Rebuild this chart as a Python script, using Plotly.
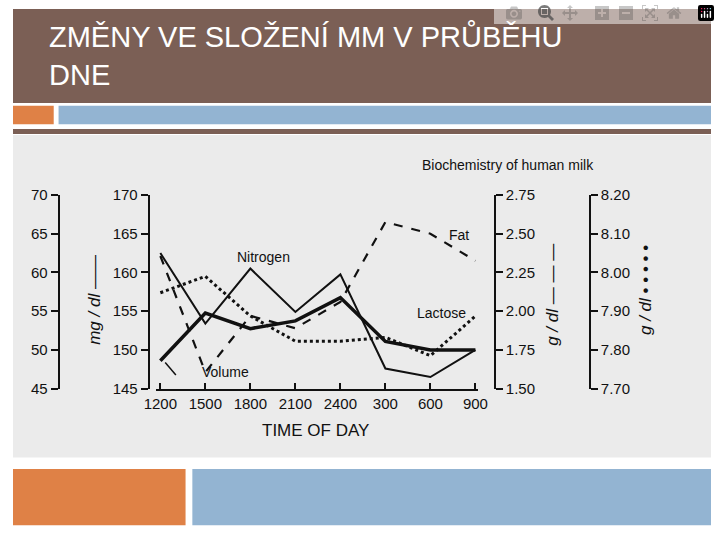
import plotly.graph_objects as go

times = ["1200", "1500", "1800", "2100", "2400", "300", "600", "900"]
nitrogen = [62.5, 53.4, 60.5, 54.9, 59.75, 47.6, 46.5, 50.0]          # mg/dl
volume = [148.6, 154.75, 152.75, 153.75, 156.75, 151.1, 150.0, 150.0]  # right-hand mg/dl scale
fat = [2.356, 1.606, 1.97, 1.89, 2.06, 2.575, 2.5, 2.325]            # g/dl
lactose = [7.9475, 7.99, 7.8875, 7.8225, 7.8225, 7.8325, 7.785, 7.8875]  # g/dl

W, H = 720, 540
def px(x): return x / W
def py(y): return 1 - y / H

idx = list(range(len(times)))
fig = go.Figure()
fig.add_trace(go.Scatter(x=idx, y=nitrogen, yaxis="y2", mode="lines", line=dict(color="#111", width=2)))
fig.add_trace(go.Scatter(x=idx, y=volume, yaxis="y", mode="lines", line=dict(color="#111", width=3.5)))
fig.add_trace(go.Scatter(x=idx, y=fat, yaxis="y3", mode="lines", line=dict(color="#111", width=2.2, dash="dash")))
fig.add_trace(go.Scatter(x=idx, y=lactose, yaxis="y4", mode="lines", line=dict(color="#111", width=3, dash="dot")))

dom = [py(392), py(192)]
axfont = dict(family="Liberation Sans, Arial", size=15, color="#111")
common = dict(domain=dom, showgrid=False, zeroline=False, showline=True, linecolor="#111", linewidth=2,
              ticks="outside", ticklen=7, tickwidth=2, tickcolor="#111", tickfont=axfont)
fig.update_layout(
    width=W, height=H, margin=dict(l=0, r=0, t=0, b=0), showlegend=False,
    paper_bgcolor="white", plot_bgcolor="rgba(0,0,0,0)",
    xaxis=dict(domain=[px(148), px(480)], range=[-0.086, 7.065], tickmode="array", tickvals=idx, ticktext=times,
               showgrid=False, zeroline=False, showline=True, linecolor="#111", linewidth=2,
               ticks="inside", ticklen=6, tickwidth=2, tickcolor="#111", tickfont=axfont),
    yaxis=dict(range=[145, 170], dtick=5, anchor="free", position=px(140), side="left", **common),
    yaxis2=dict(range=[45, 70], dtick=5, anchor="free", position=px(47), side="left", overlaying="y", **common),
    yaxis3=dict(range=[1.5, 2.75], tickvals=[1.5, 1.75, 2.0, 2.25, 2.5, 2.75],
                ticktext=["1.50", "1.75", "2.00", "2.25", "2.50", "2.75"],
                anchor="free", position=px(497), side="right", overlaying="y", **common),
    yaxis4=dict(range=[7.7, 8.2], tickvals=[7.7, 7.8, 7.9, 8.0, 8.1, 8.2],
                ticktext=["7.70", "7.80", "7.90", "8.00", "8.10", "8.20"],
                anchor="free", position=px(595), side="right", overlaying="y", **common),
)

shapes = [
    dict(type="rect", x0=0, x1=1, y0=py(97), y1=1, fillcolor="#7b5f55", line_width=0),
    dict(type="rect", x0=0, x1=px(42), y0=py(119), y1=py(100), fillcolor="#df8146", line_width=0),
    dict(type="rect", x0=px(47), x1=1, y0=py(119), y1=py(100), fillcolor="#93b4d2", line_width=0),
    dict(type="rect", x0=0, x1=1, y0=py(129), y1=py(124), fillcolor="#7b5f55", line_width=0),
    dict(type="rect", x0=0, x1=1, y0=py(463), y1=py(130), fillcolor="#ebebeb", line_width=0),
    dict(type="rect", x0=0, x1=px(178), y0=py(533), y1=py(475), fillcolor="#df8146", line_width=0),
    dict(type="rect", x0=px(185), x1=1, y0=py(533), y1=py(475), fillcolor="#93b4d2", line_width=0),
]
for s in shapes:
    s.update(xref="paper", yref="paper", layer="below")
fig.update_layout(shapes=shapes)

lf = dict(family="Liberation Sans, Arial", size=14, color="#111")
ann = [
    dict(x=px(35), y=py(48), text="ZMĚNY VE SLOŽENÍ MM V PRŮBĚHU<br>DNE", xanchor="left", yanchor="middle", align="left",
         font=dict(family="Liberation Sans, Arial", size=29, color="white")),
    dict(x=px(601), y=py(151), text="Biochemistry of human milk", font=lf),
    dict(x=px(312), y=py(447), text="TIME OF DAY", font=dict(family="Liberation Sans, Arial", size=17, color="#111")),
    dict(x=px(258), y=py(256), text="Nitrogen", font=lf),
    dict(x=px(460), y=py(233), text="Fat", font=lf),
    dict(x=px(442), y=py(314), text="Lactose", font=lf),
    dict(x=px(193), y=py(385), text="Volume", font=lf),
    dict(x=px(72), y=py(300), text="<i>mg / dl</i> ——", textangle=-90, font=dict(family="Liberation Sans, Arial", size=17, color="#111")),
    dict(x=px(569), y=py(295), text="<i>g / dl</i> — — —", textangle=-90, font=dict(family="Liberation Sans, Arial", size=17, color="#111")),
    dict(x=px(665), y=py(290), text="<i>g / dl</i> • • • • •", textangle=-90, font=dict(family="Liberation Sans, Arial", size=17, color="#111")),
]
for a in ann:
    a.update(xref="paper", yref="paper", showarrow=False)
fig.update_layout(annotations=ann)
fig.add_shape(type="line", xref="paper", yref="paper", x0=px(157), y0=py(365), x1=px(168), y1=py(378), line=dict(color="#111", width=1.5))

fig.write_html("out.html")
with open("out.html", encoding="utf-8") as f:
    html = f.read()
html = html.replace("<head>", "<head><style>html,body{margin:0;padding:0;overflow:hidden}</style>", 1)
with open("out.html", "w", encoding="utf-8") as f:
    f.write(html)
